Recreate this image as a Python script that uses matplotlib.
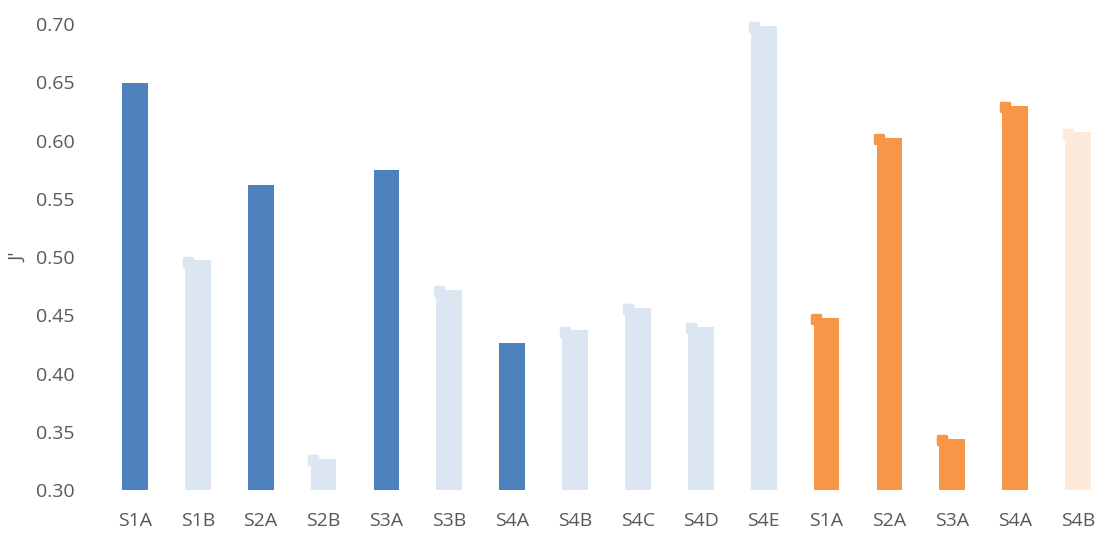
import numpy as np
import matplotlib.pyplot as plt
from matplotlib.markers import MarkerStyle

plt.rcParams['font.family'] = ['Open Sans', 'DejaVu Sans']

labels = ['S1A', 'S1B', 'S2A', 'S2B', 'S3A', 'S3B', 'S4A', 'S4B', 'S4C', 'S4D', 'S4E',
          'S1A', 'S2A', 'S3A', 'S4A', 'S4B']
values = [0.649, 0.497, 0.562, 0.327, 0.575, 0.472, 0.426, 0.437, 0.456, 0.440, 0.698,
          0.448, 0.602, 0.344, 0.630, 0.607]
# d = dark blue, l = light blue, o = orange, p = pale orange
kinds = ['d', 'l', 'd', 'l', 'd', 'l', 'd', 'l', 'l', 'l', 'l',
         'o', 'o', 'o', 'o', 'p']

colors = {'d': '#4F81BD', 'l': '#DCE6F2', 'o': '#F79646', 'p': '#FDEADA'}
width = 0.41

fig = plt.figure(figsize=(10.98, 5.33), dpi=100)
ax = fig.add_axes([103.5 / 1098, 43 / 533, 1 - 103.5 / 1098, 1 - 43 / 533 - 24 / 533])

x = np.arange(len(labels))
bar_colors = [colors[k] for k in kinds]
ax.bar(x, values, width=width, color=bar_colors, bottom=0, zorder=2)

# small rounded caps on the top-left corner of the lighter / orange bars
cap = MarkerStyle('s', joinstyle='round')
for xi, v, k in zip(x, values, kinds):
    if k == 'd':
        continue
    ax.plot(xi - width / 2 + 0.045, v - 0.0010, marker=cap, ms=5.5, mew=2.5,
            mfc=colors[k], mec=colors[k], zorder=3, clip_on=False)

ax.set_ylim(0.30, 0.70)
ax.set_xlim(-0.5, 15 + 20 / 62.9)
ax.set_yticks(np.arange(0.30, 0.701, 0.05))
ax.set_yticklabels([f'{t:.2f}' for t in np.arange(0.30, 0.701, 0.05)])
ax.set_xticks(x)
ax.set_xticklabels(labels)
ax.tick_params(length=0, labelsize=14, labelcolor='#595959')
ax.tick_params(axis='y', pad=21)
ax.tick_params(axis='x', pad=16)
for s in ax.spines.values():
    s.set_visible(False)

ax.set_ylabel("J'", fontsize=14, color='#595959', labelpad=6)

fig.savefig('out.png', dpi=100)
